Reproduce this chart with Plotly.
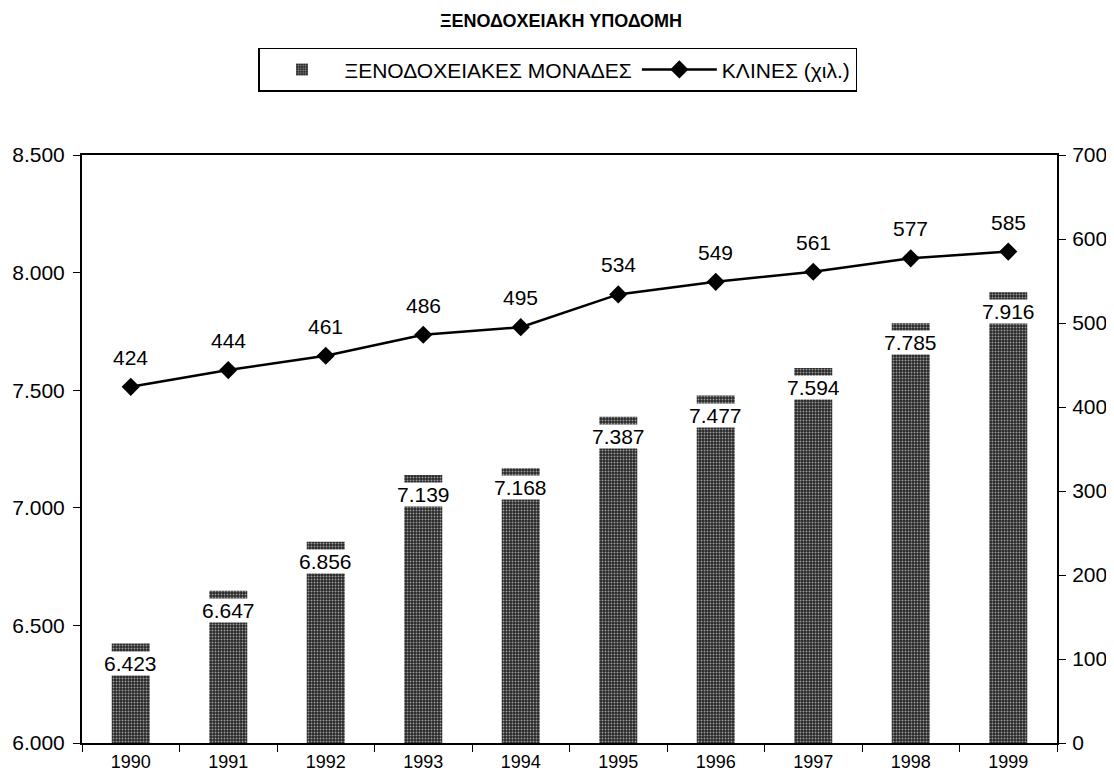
import plotly.graph_objects as go

years = ["1990", "1991", "1992", "1993", "1994", "1995", "1996", "1997", "1998", "1999"]
units = [6423, 6647, 6856, 7139, 7168, 7387, 7477, 7594, 7785, 7916]
beds = [424, 444, 461, 486, 495, 534, 549, 561, 577, 585]

FONT = "Liberation Sans, Arial, sans-serif"

fig = go.Figure()
fig.add_trace(go.Bar(
    x=years, y=units, name="ΞΕΝΟΔΟΧΕΙΑΚΕΣ ΜΟΝΑΔΕΣ",
    width=0.39,
    marker=dict(color="#262626", line=dict(width=0),
                pattern=dict(shape=".", fgcolor="#9a9a9a", bgcolor="#262626",
                             size=3, solidity=0.35, fillmode="replace")),
    yaxis="y",
))
fig.add_trace(go.Scatter(
    x=years, y=beds, name="ΚΛΙΝΕΣ (χιλ.)", mode="lines+markers",
    line=dict(color="black", width=2.5),
    marker=dict(symbol="diamond", size=14, color="black"),
    yaxis="y2",
))

def fmt(v):
    return f"{v:,}".replace(",", ".")

for i, v in enumerate(units):
    fig.add_annotation(x=i, xref="x", y=v, yref="y", text=fmt(v), showarrow=False,
                       yanchor="top", yshift=-7, bgcolor="white", borderpad=0,
                       font=dict(family=FONT, size=21, color="black"))
for i, v in enumerate(beds):
    fig.add_annotation(x=i, xref="x", y=v, yref="y2", text=str(v), showarrow=False,
                       yanchor="bottom", yshift=16,
                       font=dict(family=FONT, size=21, color="black"))

fig.update_layout(
    width=1106, height=768,
    paper_bgcolor="white", plot_bgcolor="white",
    separators=",.",
    margin=dict(l=74, r=57, t=147, b=33, autoexpand=False),
    title=dict(text="<b>ΞΕΝΟΔΟΧΕΙΑΚΗ ΥΠΟΔΟΜΗ</b>", x=0.5, xanchor="center",
               y=1 - 13 / 768, yanchor="middle",
               font=dict(family=FONT, size=18, color="black")),
    legend=dict(orientation="h", x=0.4877, xanchor="center", y=1.145, yanchor="middle",
                bordercolor="black", borderwidth=1.5, bgcolor="white",
                font=dict(family=FONT, size=21, color="black"),
                itemwidth=75, tracegroupgap=0),
    font=dict(family=FONT, size=21, color="black"),
    xaxis=dict(type="category", range=[-0.5, 9.5], showline=True, linecolor="black",
               linewidth=2, mirror=True, ticks="outside", tickson="boundaries",
               ticklen=7, tickcolor="black", showgrid=False, ticklabelstandoff=1,
               automargin=False,
               tickfont=dict(family=FONT, size=18, color="black")),
    yaxis=dict(range=[6000, 8500], dtick=500, tickformat=",d", showline=True,
               linecolor="black", linewidth=2, ticks="outside", ticklen=7,
               tickcolor="black", showgrid=False, zeroline=False, ticklabelstandoff=4,
               automargin=False,
               tickfont=dict(family=FONT, size=21, color="black")),
    yaxis2=dict(range=[0, 700], dtick=100, overlaying="y", side="right",
                showline=True, linecolor="black", linewidth=2, ticks="outside",
                ticklen=7, tickcolor="black", showgrid=False, zeroline=False,
                ticklabelstandoff=2, automargin=False,
                tickfont=dict(family=FONT, size=21, color="black")),
    showlegend=True,
)

fig.write_html("out.html")
